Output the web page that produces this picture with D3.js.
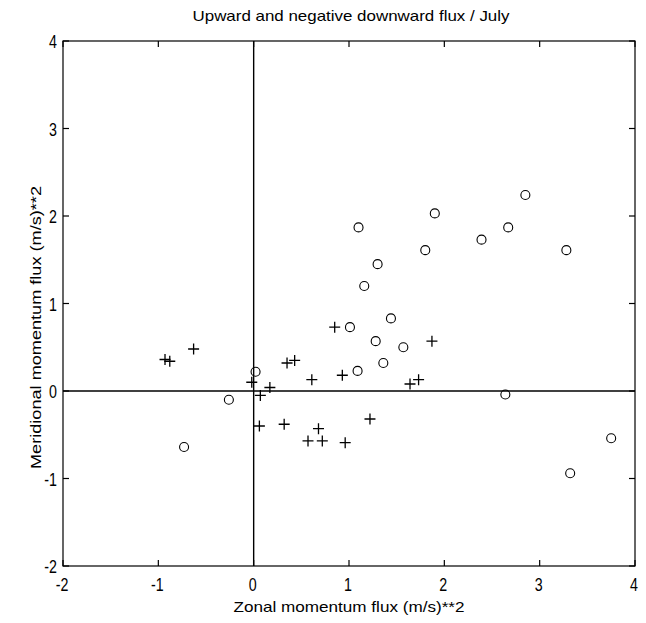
<!DOCTYPE html>
<html><head><meta charset="utf-8">
<script src="https://cdn.jsdelivr.net/npm/d3@7"></script>
<style>body{margin:0;background:#fff}svg{display:block}text{font-family:"Liberation Sans",Arial,sans-serif;fill:#000}</style>
</head><body>
<script>
const title = "Upward and negative downward flux / July";
const xLabel = "Zonal momentum flux (m/s)**2";
const yLabel = "Meridional momentum flux (m/s)**2";
const xTicks = [-2,-1,0,1,2,3,4];
const yTicks = [-2,-1,0,1,2,3,4];
// circles (upward)
const circleX = [1.10,1.90,1.80,1.30,1.16,2.39,2.67,2.85,3.28,1.01,1.44,1.28,1.57,1.36,1.09,0.02,-0.26,-0.73,2.64,3.75,3.32];
const circleY = [1.87,2.03,1.61,1.45,1.20,1.73,1.87,2.24,1.61,0.73,0.83,0.57,0.50,0.32,0.23,0.22,-0.10,-0.64,-0.04,-0.54,-0.94];
// plus (negative downward)
const plusX = [-0.93,-0.88,-0.63,0.35,0.43,0.85,0.61,0.93,-0.02,0.17,0.07,0.06,0.32,0.68,0.57,0.72,0.96,1.22,1.87,1.64,1.73];
const plusY = [0.36,0.34,0.48,0.32,0.35,0.73,0.13,0.18,0.10,0.04,-0.05,-0.40,-0.38,-0.43,-0.57,-0.57,-0.59,-0.32,0.57,0.08,0.13];

const W=646,H=623, L=63, R=635, T=41, B=566;
const svg = d3.select("body").append("svg").attr("width",W).attr("height",H);
const x = d3.scaleLinear().domain([-2,4]).range([L,R]);
const y = d3.scaleLinear().domain([-2,4]).range([B,T]);

// box
svg.append("rect").attr("x",L).attr("y",T).attr("width",R-L).attr("height",B-T)
  .attr("fill","none").attr("stroke","#000").attr("stroke-width",1.2);

const tl = 6;
const g = svg.append("g").attr("stroke","#000").attr("stroke-width",1.2);
xTicks.forEach(v=>{
  g.append("line").attr("x1",x(v)).attr("x2",x(v)).attr("y1",B).attr("y2",B-tl);
  g.append("line").attr("x1",x(v)).attr("x2",x(v)).attr("y1",T).attr("y2",T+tl);
});
yTicks.forEach(v=>{
  g.append("line").attr("y1",y(v)).attr("y2",y(v)).attr("x1",L).attr("x2",L+tl);
  g.append("line").attr("y1",y(v)).attr("y2",y(v)).attr("x1",R).attr("x2",R-tl);
});
// zero lines
g.append("line").attr("x1",x(0)).attr("x2",x(0)).attr("y1",T).attr("y2",B).attr("stroke-width",1.4);
g.append("line").attr("x1",L).attr("x2",R).attr("y1",y(0)).attr("y2",y(0)).attr("stroke-width",1.4);

// tick labels (tall, narrow)
svg.append("g").selectAll("text").data(xTicks).join("text")
  .attr("transform",d=>`translate(${x(d)-1},${B+25}) scale(0.75,1)`)
  .attr("text-anchor","middle").attr("font-size",19).text(d=>d);
svg.append("g").selectAll("text").data(yTicks).join("text")
  .attr("transform",d=>`translate(${L-6},${y(d)+7}) scale(0.75,1)`)
  .attr("text-anchor","end").attr("font-size",19).text(d=>d);

// circles
svg.append("g").selectAll("circle").data(circleX.map((d,i)=>[d,circleY[i]])).join("circle")
  .attr("cx",d=>x(d[0])).attr("cy",d=>y(d[1])).attr("r",4.5)
  .attr("fill","none").attr("stroke","#000").attr("stroke-width",1.1);
// plus
const ps = 5.5;
svg.append("g").selectAll("path").data(plusX.map((d,i)=>[d,plusY[i]])).join("path")
  .attr("d",d=>{const cx=x(d[0]),cy=y(d[1]);return `M${cx-ps},${cy}H${cx+ps}M${cx},${cy-ps}V${cy+ps}`;})
  .attr("stroke","#000").attr("stroke-width",1.3).attr("fill","none");

// title & labels
svg.append("text").attr("x",(L+R)/2+2).attr("y",21).attr("text-anchor","middle")
  .attr("font-size",15).attr("textLength",317).attr("lengthAdjust","spacingAndGlyphs").text(title);
svg.append("text").attr("x",(L+R)/2).attr("y",612).attr("text-anchor","middle")
  .attr("font-size",15).attr("textLength",231).attr("lengthAdjust","spacingAndGlyphs").text(xLabel);
svg.append("text").attr("transform",`translate(41,${(T+B)/2+24}) rotate(-90)`).attr("text-anchor","middle")
  .attr("font-size",15).attr("textLength",283).attr("lengthAdjust","spacingAndGlyphs").text(yLabel);
</script>
</body></html>
